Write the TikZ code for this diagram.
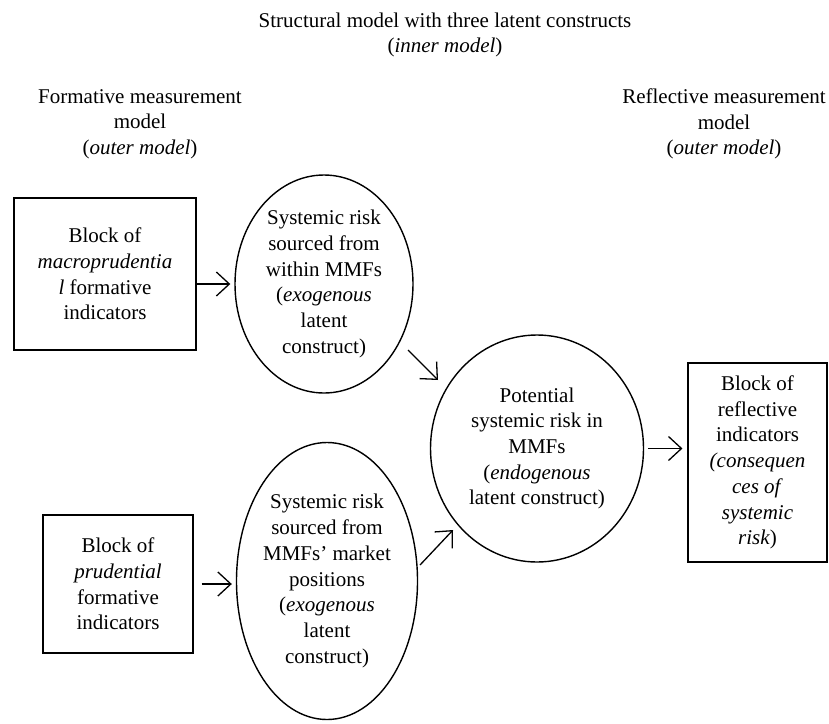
\documentclass[tikz,border=0pt]{standalone}
\usepackage{fontspec}
\setmainfont{Liberation Serif}
\usetikzlibrary{arrows.meta, shapes.geometric}

\tikzset{
  txt/.style={align=center, inner sep=0pt, font=\fontsize{21}{25.7}\selectfont},
  blockbox/.style={txt, draw, line width=1.1pt, rectangle},
  latent/.style={txt, draw, line width=1.4pt, ellipse},
  arr/.style={-{Straight Barb[length=13pt, width=24pt]}, line width=1.3pt}
}

\begin{document}
\begin{tikzpicture}[x=1pt, y=-1pt]
      \useasboundingbox (0,0) rectangle (829,723);

      % headings
      \node[txt] (inner) at (445,35) {Structural model with three latent constructs\\(\textit{inner model})};
      \node[txt] (formative) at (140,124) {Formative measurement\\model\\(\textit{outer model})};
      \node[txt] (reflective) at (724,124) {Reflective measurement\\model\\(\textit{outer model})};

      % indicator blocks
      \node[blockbox, minimum width=182, minimum height=152] (macro) at (105,274)
        {Block of\\\textit{macroprudentia}\\\textit{l} formative\\indicators};
      \node[blockbox, minimum width=150, minimum height=138] (prud) at (118,584)
        {Block of\\\textit{prudential}\\formative\\indicators};
      \node[blockbox, minimum width=139, minimum height=199] (refl) at (757.5,462.5)
        {Block of\\reflective\\indicators\\\textit{(consequen}\\\textit{ces of}\\\textit{systemic}\\\textit{risk})};

      % latent constructs
      \node[latent, minimum width=178, minimum height=218] (within) at (324,284)
        {Systemic risk\\sourced from\\within MMFs\\(\textit{exogenous}\\latent\\construct)};
      \node[latent, minimum width=181, minimum height=277] (market) at (327,581)
        {Systemic risk\\sourced from\\MMFs’ market\\positions\\(\textit{exogenous}\\latent\\construct)};
      \node[latent, minimum width=213, minimum height=227] (potential) at (537,448.5)
        {Potential\\systemic risk in\\MMFs\\(\textit{endogenous}\\latent construct)};

      % paths
      \draw[arr, shorten >=4pt] (macro.east |- within.west) -- (within.west);
      \draw[arr, shorten <=8pt, shorten >=4pt] (prud.east) -- (prud.east -| market.west);
      \draw[arr] ([shift={(84,66)}]within.center) -- ([shift={(-99,-68.5)}]potential.center);
      \draw[arr] ([shift={(93,-16)}]market.center) -- ([shift={(-84,81.5)}]potential.center);
      \draw[arr, shorten <=4pt, shorten >=5pt] (potential.east) -- (potential.east -| refl.west);
    \end{tikzpicture}
\end{document}
